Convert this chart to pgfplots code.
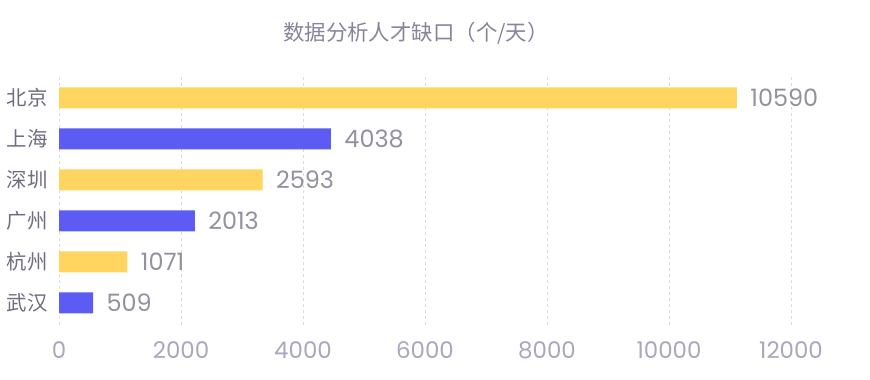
\documentclass[border=0pt]{standalone}
\usepackage{fontspec}
\setmainfont{Poppins}
\newfontfamily\cjk{Noto Sans CJK SC}
\usepackage{pgfplots}
\pgfplotsset{compat=1.18}
\definecolor{barY}{HTML}{FFD55F}
\definecolor{barB}{HTML}{5C5CF5}
\definecolor{catgray}{HTML}{6E6E80}
\definecolor{tickgray}{HTML}{A8A8BC}
\definecolor{valgray}{HTML}{92929F}
\definecolor{titlegray}{HTML}{85859A}
\definecolor{gridgray}{HTML}{DCDCDC}
\begin{document}
\begin{tikzpicture}[x=1bp,y=1bp]
\path[use as bounding box] (0,0) rectangle (870,379);
\begin{axis}[
  at={(59bp,54bp)}, anchor=south west,
  width=732bp, height=250bp, scale only axis,
  xbar, bar width=21bp, bar shift=0pt,
  xmin=0, xmax=12000,
  ymin=-0.537, ymax=5.56,
  xtick={0,2000,...,12000},
  ytick={0,1,2,3,4,5},
  yticklabels={武汉,杭州,广州,深圳,上海,北京},
  yticklabel style={font=\cjk\fontsize{20.5}{20.5}\selectfont, text=catgray, xshift=-8bp},
  xticklabel style={font=\fontsize{23}{23}\selectfont, text=tickgray, yshift=-13bp},
  /pgf/number format/assume math mode=true,
  /pgf/number format/1000 sep={},
  scaled x ticks=false,
  axis line style={draw=none},
  major tick length=0pt,
  xmajorgrids, grid style={gridgray, dashed, line width=0.8bp},
  ymajorgrids=false,
  nodes near coords,
  point meta=explicit symbolic,
  nodes near coords style={font=\fontsize{24}{24}\selectfont, text=valgray, anchor=west, xshift=10bp},
]
\addplot[fill=barY, draw=none] table[meta=v] {
x y v
11114 5 10590
3337 3 2593
1122 1 1071
};
\addplot[fill=barB, draw=none] table[meta=v] {
x y v
4458 4 4038
2226 2 2013
558 0 509
};
\end{axis}
\node[font=\cjk\fontsize{21.5}{21.5}\selectfont, text=titlegray] at (416,346) {数据分析人才缺口（个/天）};
\end{tikzpicture}
\end{document}
